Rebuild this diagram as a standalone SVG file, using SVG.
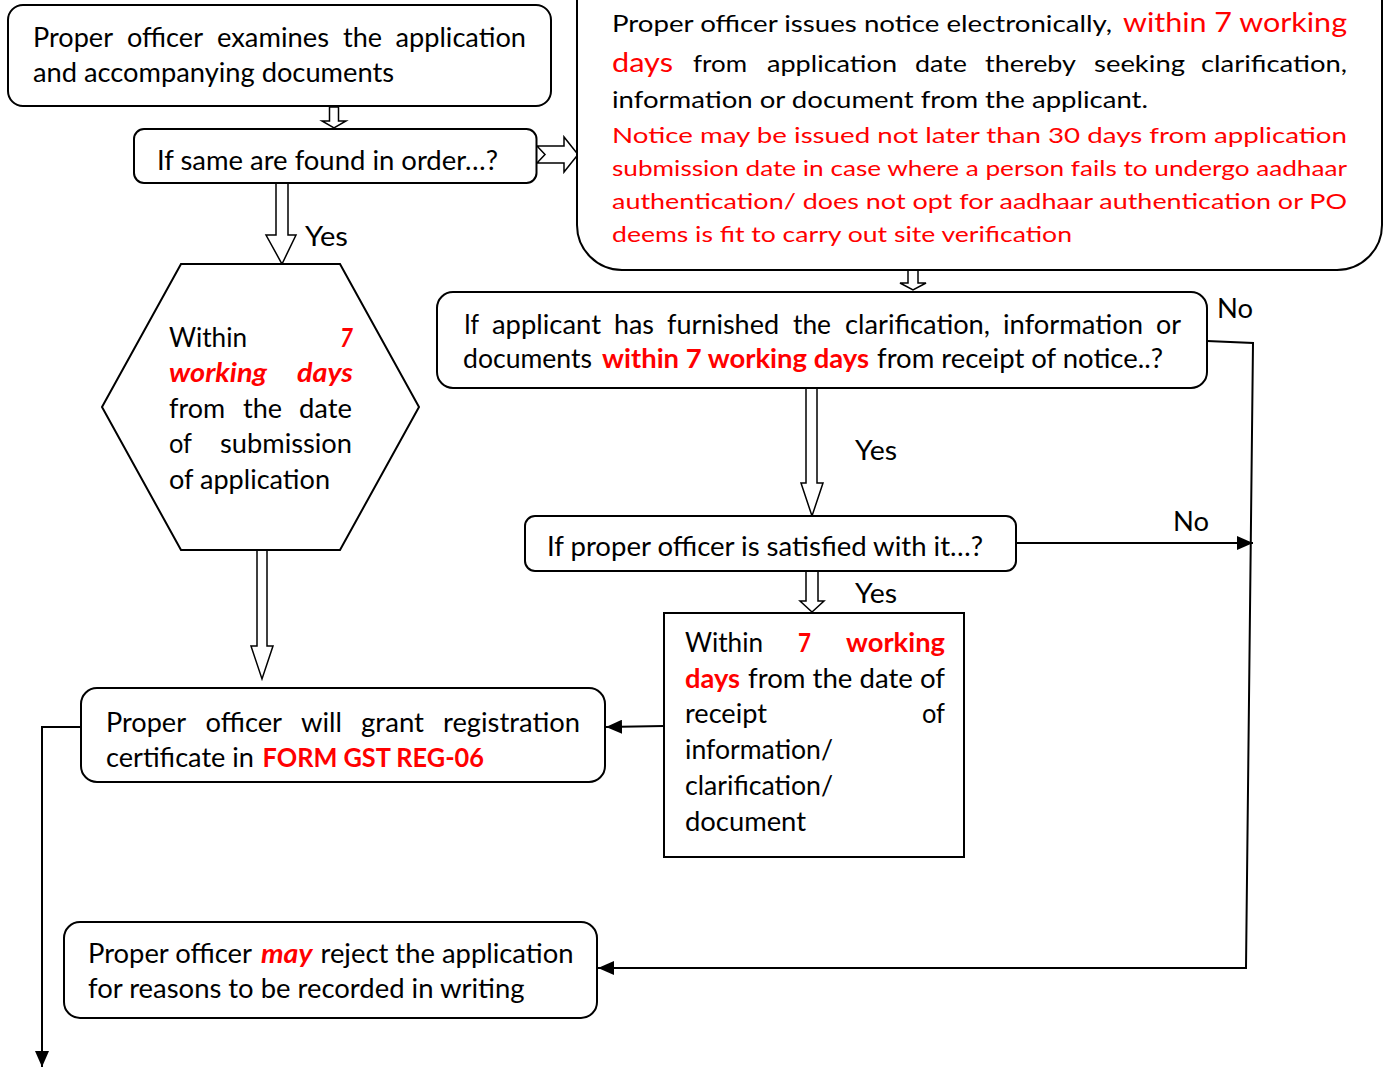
<svg xmlns="http://www.w3.org/2000/svg" width="1388" height="1067" viewBox="0 0 1388 1067">
  <defs>
    <style>
      .box { fill: #fff; stroke: #000; stroke-width: 2; }
      .hollow { fill: #fff; stroke: #000; stroke-width: 1.5; stroke-linejoin: miter; }
      .wire { fill: none; stroke: #000; stroke-width: 2; }
      .t { font-family: Lato, "Liberation Sans", sans-serif; font-size: 26px; fill: #000; }
      .sm { font-size: 23.5px; }
      .xs { font-size: 21.5px; }
      .r { fill: #ff0000; }
      .b { font-weight: bold; }
      .i { font-style: italic; }
    </style>
    <marker id="head" markerUnits="userSpaceOnUse" markerWidth="16" markerHeight="14" refX="16" refY="7" orient="auto">
      <path d="M0,0 L16,7 L0,14 z" fill="#000"/>
    </marker>
  </defs>
  <rect width="1388" height="1067" fill="#fff"/>

  <!-- connectors -->
  <g id="connectors">
    <!-- hollow block arrows -->
    <polygon class="hollow" points="329.5,107 338.5,107 338.5,121 346,121 334,128 322,121 329.5,121"/>
    <polygon class="hollow" points="276,183 288,183 288,235 296,235 282,264 266,235 276,235"/>
    <polygon class="hollow" points="257,550 267,550 267,646 273,646 262,679 251,646 257,646"/>
    <polygon class="hollow" points="908,270 918,270 918,283 926,283 913,290 900,283 908,283"/>
    <polygon class="hollow" points="806,388 817,388 817,483 823,483 812,516 801,483 806,483"/>
    <polygon class="hollow" points="806,571 818,571 818,601 824,601 812,612 800,601 806,601"/>
    <!-- notched arrow towards the notice -->
    <polygon class="hollow" points="537,146 564,146 564,137 578,154.5 564,172 564,163 537,163 545,154.5"/>
    <!-- line connectors -->
    <path class="wire" d="M1017,543 L1253,543" marker-end="url(#head)"/>
    <path class="wire" stroke-width="1.6" d="M1207,341 L1253,343 L1246,968 L598,968" marker-end="url(#head)"/>
    <path class="wire" d="M664,726 L606,727" marker-end="url(#head)"/>
    <path class="wire" d="M81,727 L42,727 L42,1067" marker-end="url(#head)"/>
    <!-- branch labels -->
    <text class="t" x="305" y="246" textLength="43" lengthAdjust="spacingAndGlyphs">Yes</text>
    <text class="t" x="1217" y="318" textLength="36" lengthAdjust="spacingAndGlyphs">No</text>
    <text class="t" x="855" y="460" textLength="42" lengthAdjust="spacingAndGlyphs">Yes</text>
    <text class="t" x="1173" y="531" textLength="36" lengthAdjust="spacingAndGlyphs">No</text>
    <text class="t" x="855" y="603" textLength="42" lengthAdjust="spacingAndGlyphs">Yes</text>
  </g>

  <g id="examine">
    <rect class="box" x="8" y="5" width="543" height="101" rx="15"/>
    <text class="t" x="33" y="47" textLength="80" lengthAdjust="spacingAndGlyphs">Proper</text>
    <text class="t" x="127" y="47" textLength="76" lengthAdjust="spacingAndGlyphs">officer</text>
    <text class="t" x="217" y="47" textLength="112" lengthAdjust="spacingAndGlyphs">examines</text>
    <text class="t" x="343" y="47" textLength="39" lengthAdjust="spacingAndGlyphs">the</text>
    <text class="t" x="395.5" y="47" textLength="130.5" lengthAdjust="spacingAndGlyphs">application</text>
    <text class="t" x="33" y="82" textLength="361" lengthAdjust="spacingAndGlyphs">and accompanying documents</text>
  </g>

  <g id="in-order">
    <rect class="box" x="134" y="129" width="402.5" height="54" rx="10"/>
    <text class="t" x="157" y="170" textLength="341" lengthAdjust="spacingAndGlyphs">If same are found in order…?</text>
  </g>

  <g id="notice">
    <rect class="box" x="577" y="-60" width="805" height="330" rx="45"/>
    <text class="t sm" x="612" y="32" textLength="500" lengthAdjust="spacingAndGlyphs">Proper officer issues notice electronically,</text>
    <text class="t r" x="1123" y="32" textLength="224" lengthAdjust="spacingAndGlyphs">within 7 working</text>
    <text class="t r" x="612" y="72" textLength="61" lengthAdjust="spacingAndGlyphs">days</text>
    <text class="t sm" x="693" y="72" textLength="54" lengthAdjust="spacingAndGlyphs">from</text>
    <text class="t sm" x="767" y="72" textLength="130" lengthAdjust="spacingAndGlyphs">application</text>
    <text class="t sm" x="915" y="72" textLength="52" lengthAdjust="spacingAndGlyphs">date</text>
    <text class="t sm" x="985" y="72" textLength="91" lengthAdjust="spacingAndGlyphs">thereby</text>
    <text class="t sm" x="1094" y="72" textLength="91" lengthAdjust="spacingAndGlyphs">seeking</text>
    <text class="t sm" x="1201" y="72" textLength="146" lengthAdjust="spacingAndGlyphs">clarification,</text>
    <text class="t sm" x="612" y="108" textLength="536" lengthAdjust="spacingAndGlyphs">information or document from the applicant.</text>
    <text class="t xs r" x="612" y="143" textLength="735" lengthAdjust="spacingAndGlyphs">Notice may be issued not later than 30 days from application</text>
    <text class="t xs r" x="612" y="176" textLength="735" lengthAdjust="spacingAndGlyphs">submission date in case where a person fails to undergo aadhaar</text>
    <text class="t xs r" x="612" y="209" textLength="735" lengthAdjust="spacingAndGlyphs">authentication/ does not opt for aadhaar authentication or PO</text>
    <text class="t xs r" x="612" y="242" textLength="460" lengthAdjust="spacingAndGlyphs">deems is fit to carry out site verification</text>
  </g>

  <g id="furnished">
    <rect class="box" x="437" y="292" width="770" height="96" rx="16"/>
    <text class="t" x="464" y="334" textLength="15" lengthAdjust="spacingAndGlyphs">If</text>
    <text class="t" x="492" y="334" textLength="109" lengthAdjust="spacingAndGlyphs">applicant</text>
    <text class="t" x="614" y="334" textLength="40" lengthAdjust="spacingAndGlyphs">has</text>
    <text class="t" x="667" y="334" textLength="112" lengthAdjust="spacingAndGlyphs">furnished</text>
    <text class="t" x="793" y="334" textLength="38" lengthAdjust="spacingAndGlyphs">the</text>
    <text class="t" x="845" y="334" textLength="145" lengthAdjust="spacingAndGlyphs">clarification,</text>
    <text class="t" x="1003" y="334" textLength="140" lengthAdjust="spacingAndGlyphs">information</text>
    <text class="t" x="1156" y="334" textLength="25" lengthAdjust="spacingAndGlyphs">or</text>
    <text class="t" x="463" y="368" textLength="129" lengthAdjust="spacingAndGlyphs">documents</text>
    <text class="t r b" x="602" y="368" textLength="267" lengthAdjust="spacingAndGlyphs">within 7 working days</text>
    <text class="t" x="877" y="368" textLength="286" lengthAdjust="spacingAndGlyphs">from receipt of notice..?</text>
  </g>

  <g id="satisfied">
    <rect class="box" x="525" y="516" width="491" height="55" rx="10"/>
    <text class="t" x="547" y="556" textLength="436" lengthAdjust="spacingAndGlyphs">If proper officer is satisfied with it…?</text>
  </g>

  <g id="within-submission">
    <polygon class="box" points="181,264 340,264 419,407 340,550 181,550 102,407"/>
    <text class="t" x="169" y="347" textLength="78" lengthAdjust="spacingAndGlyphs">Within</text>
    <text class="t r b i" x="340" y="347" textLength="13" lengthAdjust="spacingAndGlyphs">7</text>
    <text class="t r b i" x="169" y="382" textLength="98" lengthAdjust="spacingAndGlyphs">working</text>
    <text class="t r b i" x="297" y="382" textLength="56" lengthAdjust="spacingAndGlyphs">days</text>
    <text class="t" x="169" y="418" textLength="56" lengthAdjust="spacingAndGlyphs">from</text>
    <text class="t" x="243" y="418" textLength="39" lengthAdjust="spacingAndGlyphs">the</text>
    <text class="t" x="299" y="418" textLength="53" lengthAdjust="spacingAndGlyphs">date</text>
    <text class="t" x="169" y="453" textLength="23" lengthAdjust="spacingAndGlyphs">of</text>
    <text class="t" x="220" y="453" textLength="132" lengthAdjust="spacingAndGlyphs">submission</text>
    <text class="t" x="169" y="489" textLength="161" lengthAdjust="spacingAndGlyphs">of application</text>
  </g>

  <g id="within-receipt">
    <rect class="box" x="664" y="613" width="300" height="244"/>
    <text class="t" x="685" y="652" textLength="78" lengthAdjust="spacingAndGlyphs">Within</text>
    <text class="t r b" x="798" y="652" textLength="13" lengthAdjust="spacingAndGlyphs">7</text>
    <text class="t r b" x="846" y="652" textLength="99" lengthAdjust="spacingAndGlyphs">working</text>
    <text class="t r b" x="685" y="688" textLength="55" lengthAdjust="spacingAndGlyphs">days</text>
    <text class="t" x="748" y="688" textLength="197" lengthAdjust="spacingAndGlyphs">from the date of</text>
    <text class="t" x="685" y="723" textLength="82" lengthAdjust="spacingAndGlyphs">receipt</text>
    <text class="t" x="922" y="723" textLength="23" lengthAdjust="spacingAndGlyphs">of</text>
    <text class="t" x="685" y="759" textLength="148" lengthAdjust="spacingAndGlyphs">information/</text>
    <text class="t" x="685" y="795" textLength="148" lengthAdjust="spacingAndGlyphs">clarification/</text>
    <text class="t" x="685" y="831" textLength="121" lengthAdjust="spacingAndGlyphs">document</text>
  </g>

  <g id="grant">
    <rect class="box" x="81" y="688" width="524" height="94" rx="16"/>
    <text class="t" x="106" y="732" textLength="80" lengthAdjust="spacingAndGlyphs">Proper</text>
    <text class="t" x="205.5" y="732" textLength="76.5" lengthAdjust="spacingAndGlyphs">officer</text>
    <text class="t" x="301" y="732" textLength="41" lengthAdjust="spacingAndGlyphs">will</text>
    <text class="t" x="361" y="732" textLength="63" lengthAdjust="spacingAndGlyphs">grant</text>
    <text class="t" x="443" y="732" textLength="137" lengthAdjust="spacingAndGlyphs">registration</text>
    <text class="t" x="106" y="767" textLength="148" lengthAdjust="spacingAndGlyphs">certificate in</text>
    <text class="t r b" x="262.5" y="767" textLength="221.5" lengthAdjust="spacingAndGlyphs">FORM GST REG-06</text>
  </g>

  <g id="reject">
    <rect class="box" x="64" y="922" width="533" height="96" rx="16"/>
    <text class="t" x="88" y="963" textLength="164" lengthAdjust="spacingAndGlyphs">Proper officer</text>
    <text class="t r b i" x="261" y="963" textLength="51.5" lengthAdjust="spacingAndGlyphs">may</text>
    <text class="t" x="320.5" y="963" textLength="253" lengthAdjust="spacingAndGlyphs">reject the application</text>
    <text class="t" x="88" y="998" textLength="436.5" lengthAdjust="spacingAndGlyphs">for reasons to be recorded in writing</text>
  </g>
</svg>
